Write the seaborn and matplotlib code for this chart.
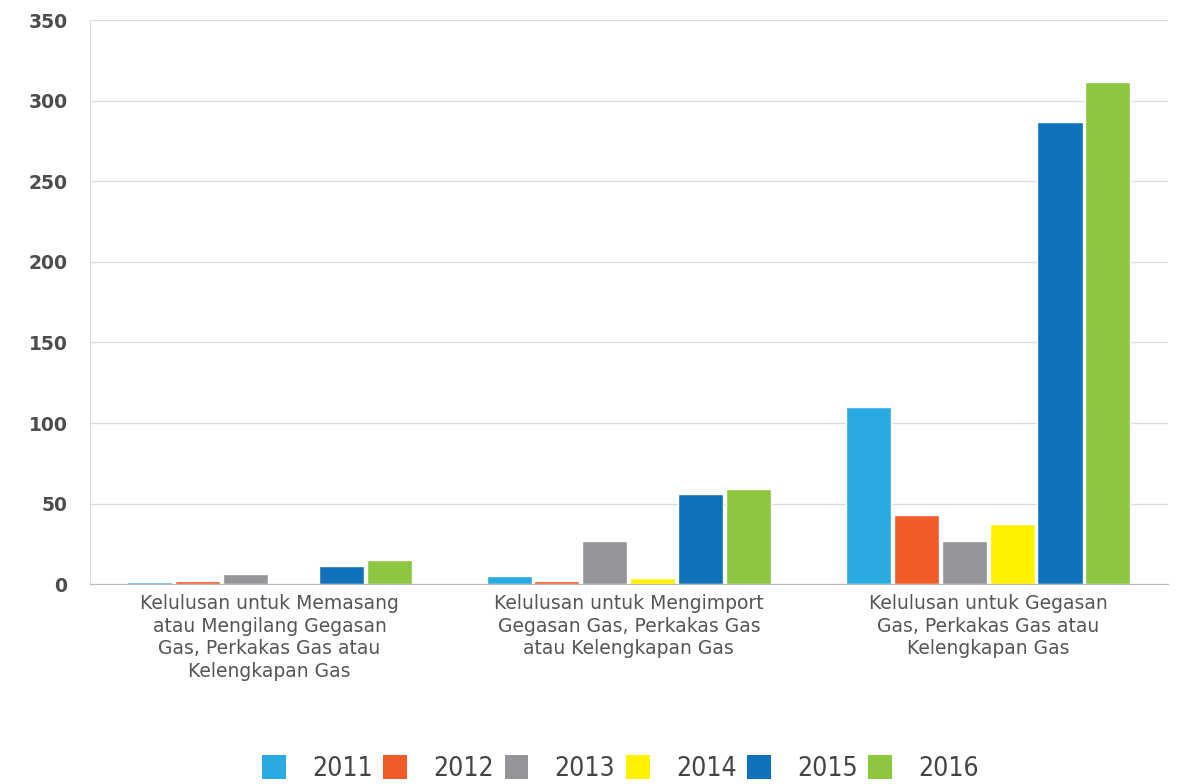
import matplotlib.pyplot as plt
import pandas as pd
import seaborn as sns
from matplotlib.patches import Patch

categories = [
    "Kelulusan untuk Memasang\natau Mengilang Gegasan\nGas, Perkakas Gas atau\nKelengkapan Gas",
    "Kelulusan untuk Mengimport\nGegasan Gas, Perkakas Gas\natau Kelengkapan Gas",
    "Kelulusan untuk Gegasan\nGas, Perkakas Gas atau\nKelengkapan Gas",
]
years = ["2011", "2012", "2013", "2014", "2015", "2016"]
values = {
    "2011": [1, 5, 110],
    "2012": [2, 2, 43],
    "2013": [6, 27, 27],
    "2014": [0, 4, 37],
    "2015": [11, 56, 287],
    "2016": [15, 59, 312],
}
colors = ["#29abe2", "#f15a29", "#939598", "#fff200", "#1072ba", "#8dc63f"]

# long format for seaborn
rows = []
for y in years:
    for cat, v in zip(categories, values[y]):
        rows.append({"category": cat, "year": y, "value": v})
df = pd.DataFrame(rows)

sns.set_style("white")
plt.rcParams['font.family'] = ['DejaVu Sans']

fig = plt.figure(figsize=(11.82, 7.84), dpi=100)
ax = fig.add_axes([0.076, 0.255, 0.912, 0.719])

sns.barplot(data=df, x="category", y="value", hue="year", palette=colors,
            width=0.8, gap=0.06, ax=ax, legend=False, saturation=1)

ax.set_ylim(0, 350)
ax.set_xlim(-0.5, 2.5)
ax.set_yticks(range(0, 351, 50))
ax.yaxis.grid(True, color="#dddddd", linewidth=1)
ax.set_axisbelow(True)
ax.set_xlabel("")
ax.set_ylabel("")

for side in ["top", "right"]:
    ax.spines[side].set_visible(False)
ax.spines["left"].set_color("#dddddd")
ax.spines["bottom"].set_color("#bbbbbb")

ax.tick_params(axis="y", length=0, pad=16, labelsize=13.5, labelcolor="#4d4d4d")
ax.tick_params(axis="x", length=0, pad=7, labelsize=13.5, labelcolor="#555555")
for lbl in ax.get_yticklabels():
    lbl.set_fontweight("bold")
for lbl in ax.get_xticklabels():
    lbl.set_linespacing(1.25)

handles = [Patch(facecolor=c, edgecolor="none", label=y) for c, y in zip(colors, years)]
fig.legend(handles=handles, loc="center", bbox_to_anchor=(0.525, 0.02), ncol=6,
           frameon=False, handlelength=0.9, handleheight=1.0,
           handletextpad=1.0, columnspacing=0.4, labelcolor="#444444",
           prop={"family": "DejaVu Sans", "stretch": "condensed", "size": 19})

plt.savefig("out.png", dpi=100)
plt.close()
